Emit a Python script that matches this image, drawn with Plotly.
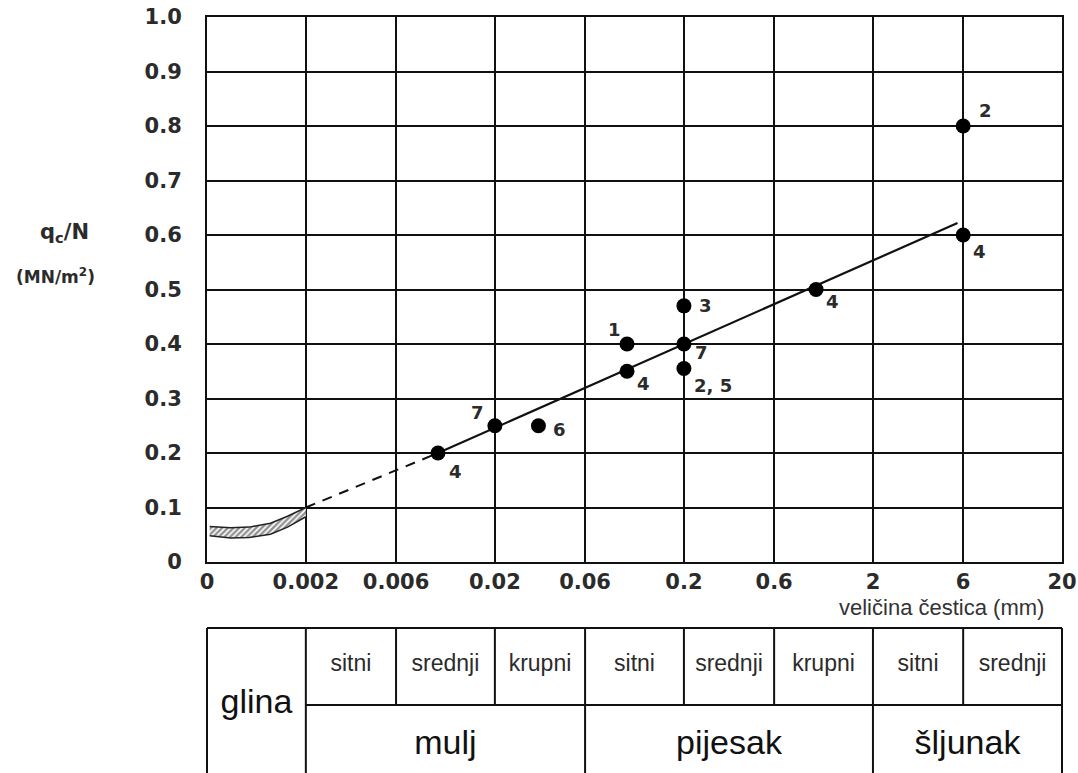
import numpy as np
import plotly.graph_objects as go

# ---------------- data ----------------
X_TICK_VALS = [0.0006, 0.002, 0.006, 0.02, 0.06, 0.2, 0.6, 2, 6, 20]
X_TICK_TEXT = ["0", "0.002", "0.006", "0.02", "0.06", "0.2", "0.6", "2", "6", "20"]
Y_TICK_VALS = [0, 0.1, 0.2, 0.3, 0.4, 0.5, 0.6, 0.7, 0.8, 0.9, 1.0]
Y_TICK_TEXT = ["0", "0.1", "0.2", "0.3", "0.4", "0.5", "0.6", "0.7", "0.8", "0.9", "1.0"]

POINT_X = [0.01, 0.02, 0.034, 0.1, 0.1, 0.2, 0.2, 0.2, 1.0, 6, 6]
POINT_Y = [0.20, 0.25, 0.25, 0.40, 0.35, 0.47, 0.40, 0.355, 0.50, 0.80, 0.60]
POINT_LABELS = ["4", "7", "6", "1", "4", "3", "7", "2, 5", "4", "2", "4"]

TREND_X = [0.01, 5.6]
TREND_Y = [0.20, 0.622]
DASH_X = [0.002, 0.01]
DASH_Y = [0.10, 0.20]

HATCH_X = [0.00062, 0.0008, 0.001, 0.0013, 0.0016, 0.002]
HATCH_LOW = [0.048, 0.044, 0.045, 0.051, 0.064, 0.083]
HATCH_HIGH = [0.065, 0.063, 0.064, 0.071, 0.084, 0.100]

CLAY_LABEL = "glina"
SUB_LABELS = ["sitni", "srednji", "krupni", "sitni", "srednji", "krupni", "sitni", "srednji"]
GROUP_LABELS = ["mulj", "pijesak", "šljunak"]
GROUP_BOUNDS = [0.002, 0.06, 2, 20]

X_TITLE = "veličina čestica (mm)"
Y_TITLE_1 = "q<sub>c</sub>/N"
Y_TITLE_2 = "(MN/m<sup>2</sup>)"

# ---------------- style / layout helpers ----------------
W, H = 1078, 773
PLOT_L, PLOT_R, PLOT_T, PLOT_B = 207, 1062, 17, 562   # page pixels
TABLE_TOP_PX = 628
ML, MR, MT, MB = PLOT_L, W - PLOT_R, PLOT_T, 0
TABLE_RANGE_TOP = 1.05
MID = 0.469
PH = H - MT - MB
PW = W - ML - MR


def py(page_y):
    return (H - MB - page_y) / PH


def px_x(page_x):
    return (page_x - ML) / PW


LABEL_DX = [18, -17, 21, -13, 16, 22, 18, 29, 16, 22, 16]
LABEL_DY = [18, -13, 4, -15, 12, 0, 8, 17, 12, -16, 16]

TXT = "#2b2b2b"
BOLD = dict(family="DejaVu Sans", weight="bold", color=TXT)

x_range = [np.log10(X_TICK_VALS[0]), np.log10(X_TICK_VALS[-1])]

fig = go.Figure()

# hatched band (clay)
fig.add_trace(go.Scatter(x=HATCH_X, y=HATCH_LOW, mode="lines",
                         line=dict(color="#222", width=1.5), showlegend=False,
                         hoverinfo="skip"))
fig.add_trace(go.Scatter(x=HATCH_X, y=HATCH_HIGH, mode="lines", fill="tonexty",
                         fillcolor="white",
                         fillpattern=dict(shape="/", size=4, solidity=0.6,
                                          fgcolor="#222", bgcolor="white"),
                         line=dict(color="#222", width=1.5), showlegend=False,
                         hoverinfo="skip"))
# dashed extrapolation
fig.add_trace(go.Scatter(x=DASH_X, y=DASH_Y, mode="lines",
                         line=dict(color="#111", width=2, dash="10px,8px"),
                         showlegend=False))
# trend line
fig.add_trace(go.Scatter(x=TREND_X, y=TREND_Y, mode="lines",
                         line=dict(color="#111", width=2.2), showlegend=False))
# points
fig.add_trace(go.Scatter(x=POINT_X, y=POINT_Y, mode="markers",
                         marker=dict(color="black", size=15), showlegend=False))

annotations = []
for x, y, t, dx, dy in zip(POINT_X, POINT_Y, POINT_LABELS, LABEL_DX, LABEL_DY):
    annotations.append(dict(x=np.log10(x), y=y, xref="x", yref="y", text=t,
                            showarrow=False, xshift=dx, yshift=-dy,
                            font=dict(size=18, **BOLD)))

# table lines (inner)
tx, ty = [], []
for b in GROUP_BOUNDS[:-1]:
    tx += [b, b, None]
    ty += [0, 1, None]
for b in X_TICK_VALS[1:-1]:
    if b not in GROUP_BOUNDS:
        tx += [b, b, None]
        ty += [MID, 1, None]
tx += [GROUP_BOUNDS[0], X_TICK_VALS[-1], None]
ty += [MID, MID, None]
tx += [X_TICK_VALS[0], X_TICK_VALS[-1], None]
ty += [1, 1, None]
fig.add_trace(go.Scatter(x=tx, y=ty, mode="lines", xaxis="x2", yaxis="y2",
                         line=dict(color="#111", width=2), showlegend=False,
                         hoverinfo="skip"))

# table text
sub_centers = [np.sqrt(X_TICK_VALS[i] * X_TICK_VALS[i + 1]) for i in range(1, len(X_TICK_VALS) - 1)]
fig.add_trace(go.Scatter(x=sub_centers, y=[0.745] * len(sub_centers), mode="text",
                         text=SUB_LABELS, xaxis="x2", yaxis="y2",
                         textfont=dict(family="Liberation Sans", size=23, color=TXT),
                         showlegend=False, hoverinfo="skip"))
grp_centers = [np.sqrt(GROUP_BOUNDS[i] * GROUP_BOUNDS[i + 1]) for i in range(len(GROUP_BOUNDS) - 1)]
fig.add_trace(go.Scatter(x=grp_centers, y=[0.19] * len(grp_centers), mode="text",
                         text=GROUP_LABELS, xaxis="x2", yaxis="y2",
                         textfont=dict(family="Liberation Sans", size=34, color="#111"),
                         showlegend=False, hoverinfo="skip"))
fig.add_trace(go.Scatter(x=[np.sqrt(X_TICK_VALS[0] * X_TICK_VALS[1])], y=[0.47], mode="text",
                         text=[CLAY_LABEL], xaxis="x2", yaxis="y2",
                         textfont=dict(family="Liberation Sans", size=34, color="#111"),
                         showlegend=False, hoverinfo="skip"))

annotations += [
    dict(x=px_x(64), y=py(233), xref="paper", yref="paper", text=Y_TITLE_1,
         showarrow=False, xanchor="center", yanchor="middle", font=dict(size=21, **BOLD)),
    dict(x=px_x(55), y=py(276), xref="paper", yref="paper", text=Y_TITLE_2,
         showarrow=False, xanchor="center", yanchor="middle", font=dict(size=17, **BOLD)),
    dict(x=px_x(1046), y=py(607), xref="paper", yref="paper", text=X_TITLE,
         showarrow=False, xanchor="right", yanchor="middle",
         font=dict(family="Liberation Sans", size=22, color="#333")),
]

table_top = py(TABLE_TOP_PX - (TABLE_RANGE_TOP - 1) * (H - TABLE_TOP_PX))
shapes = [
    dict(type="line", xref="paper", yref="paper", x0=0, x1=0, y0=0, y1=py(TABLE_TOP_PX),
         line=dict(color="#111", width=2)),
    dict(type="line", xref="paper", yref="paper", x0=1, x1=1, y0=0, y1=py(TABLE_TOP_PX),
         line=dict(color="#111", width=2)),
]

fig.update_layout(
    width=W, height=H, autosize=False,
    margin=dict(l=ML, r=MR, t=MT, b=MB, pad=0, autoexpand=False),
    paper_bgcolor="white", plot_bgcolor="white",
    showlegend=False,
    annotations=annotations,
    shapes=shapes,
    xaxis=dict(type="log", range=x_range, tickvals=X_TICK_VALS, ticktext=X_TICK_TEXT,
               showgrid=True, gridcolor="#111", gridwidth=1.6,
               showline=True, linecolor="#111", linewidth=2, mirror=True,
               ticks="", ticklabelstandoff=0, tickfont=dict(size=21, **BOLD),
               ticklabeloverflow="allow", anchor="y", zeroline=False, automargin=False),
    yaxis=dict(range=[0, 1], domain=[py(PLOT_B), 1], tickvals=Y_TICK_VALS,
               ticktext=Y_TICK_TEXT, showgrid=True, gridcolor="#111", gridwidth=1.6,
               showline=True, linecolor="#111", linewidth=2, mirror=True,
               ticks="", ticklabelstandoff=19, tickfont=dict(size=21, **BOLD),
               ticklabeloverflow="allow", zeroline=False, anchor="x", automargin=False),
    xaxis2=dict(type="log", range=x_range, anchor="y2", visible=False, automargin=False),
    yaxis2=dict(range=[0, TABLE_RANGE_TOP], domain=[0, table_top], anchor="x2",
                visible=False, automargin=False),
)

fig.write_html("out.html",
               config=dict(displayModeBar=False, responsive=False),
               post_script="document.body.style.margin='0';"
                           "document.documentElement.style.overflow='hidden';"
                           "document.body.style.overflow='hidden';")
